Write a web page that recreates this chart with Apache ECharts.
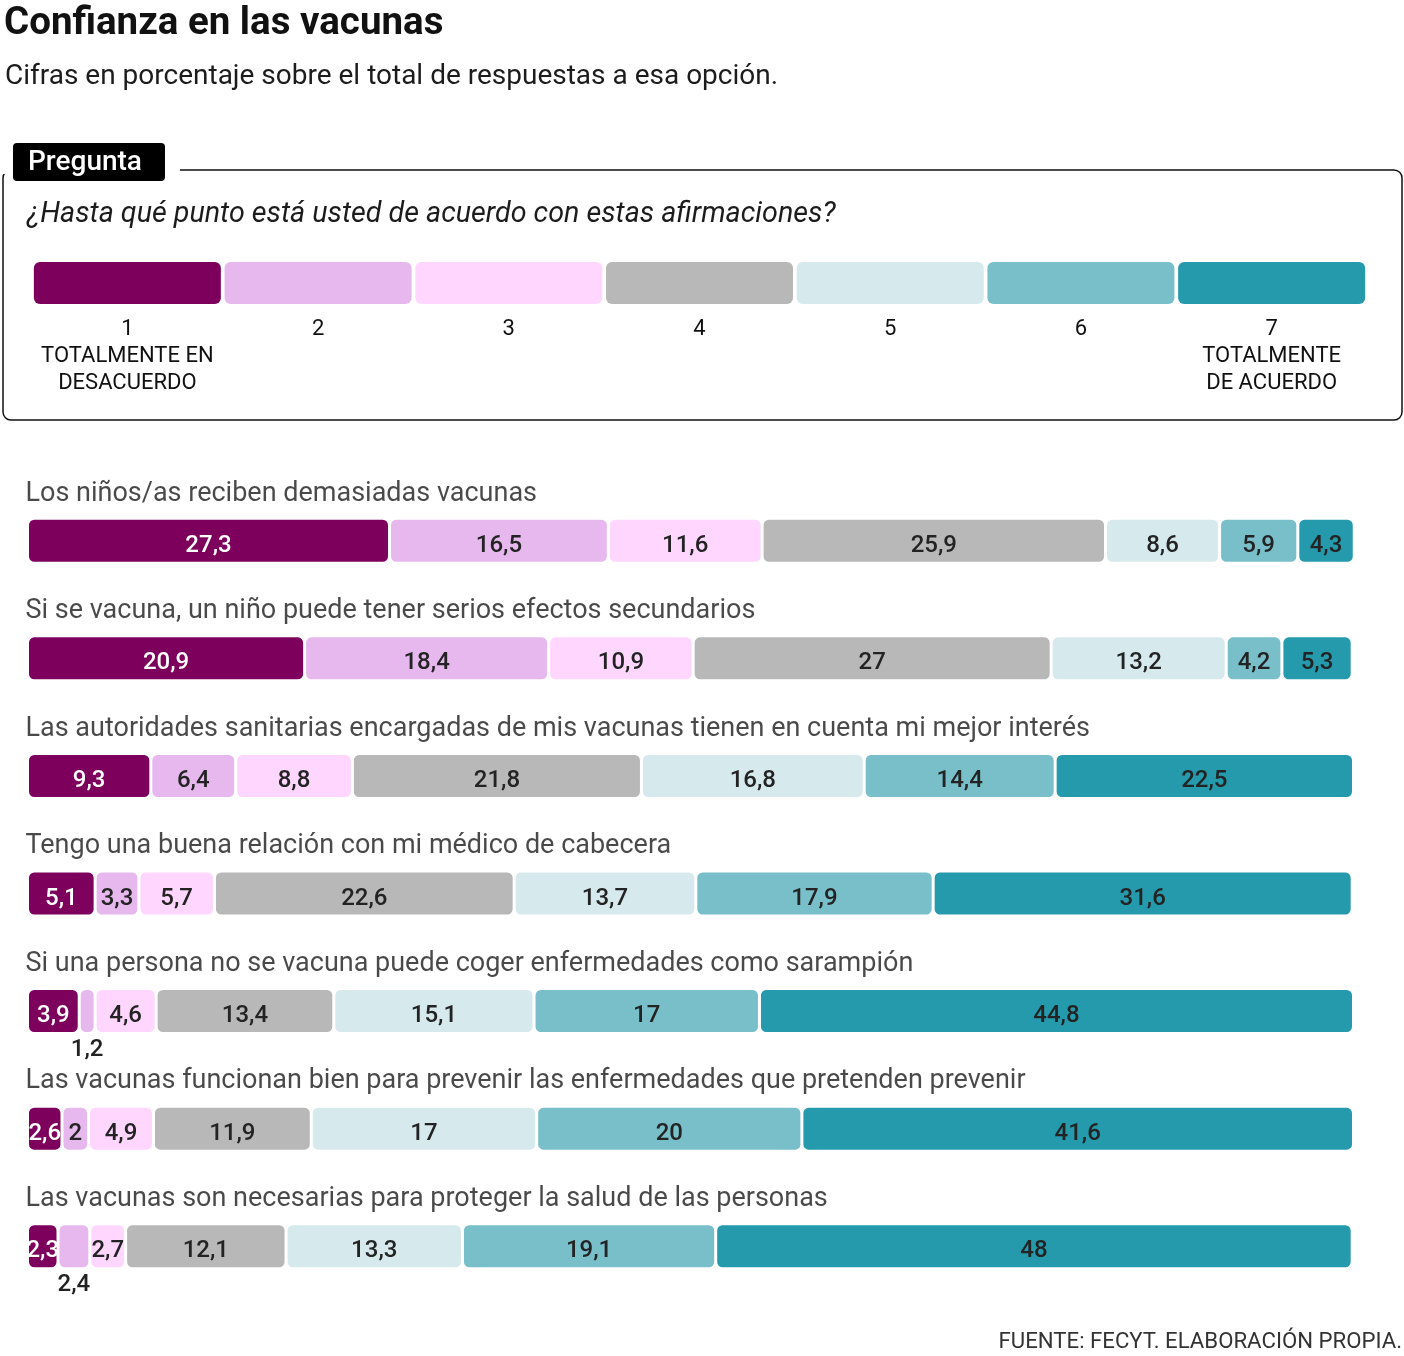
<!DOCTYPE html>
<html>
<head>
<meta charset="utf-8">
<script src="https://cdn.jsdelivr.net/npm/echarts@6/dist/echarts.min.js"></script>
<style>
html,body{margin:0;padding:0;background:#fff;}
#c{width:1404px;height:1356px;}
</style>
</head>
<body>
<div id="c"></div>
<script>
// ---- DATA ----
var questions = [
  'Los niños/as reciben demasiadas vacunas',
  'Si se vacuna, un niño puede tener serios efectos secundarios',
  'Las autoridades sanitarias encargadas de mis vacunas tienen en cuenta mi mejor interés',
  'Tengo una buena relación con mi médico de cabecera',
  'Si una persona no se vacuna puede coger enfermedades como sarampión',
  'Las vacunas funcionan bien para prevenir las enfermedades que pretenden prevenir',
  'Las vacunas son necesarias para proteger la salud de las personas'
];
var scaleLabels = ['1\nTOTALMENTE EN\nDESACUERDO', '2', '3', '4', '5', '6', '7\nTOTALMENTE\nDE ACUERDO'];
var row1 = [27.3, 16.5, 11.6, 25.9, 8.6, 5.9, 4.3];
var row2 = [20.9, 18.4, 10.9, 27, 13.2, 4.2, 5.3];
var row3 = [9.3, 6.4, 8.8, 21.8, 16.8, 14.4, 22.5];
var row4 = [5.1, 3.3, 5.7, 22.6, 13.7, 17.9, 31.6];
var row5 = [3.9, 1.2, 4.6, 13.4, 15.1, 17, 44.8];
var row6 = [2.6, 2, 4.9, 11.9, 17, 20, 41.6];
var row7 = [2.3, 2.4, 2.7, 12.1, 13.3, 19.1, 48];
var rows = [row1, row2, row3, row4, row5, row6, row7];
// values whose label sits below the bar: [row, option]
var labelsBelow = [[4, 1], [6, 1]];

var colors = ['#7C005C', '#E6B8EE', '#FED6FE', '#B8B8B8', '#D6E9ED', '#78BFCA', '#259AAC'];
var FONT = 'Roboto';

function fmt(v) { return String(v).replace('.', ','); }

var series = [];
for (var k = 0; k < 7; k++) {
  var data = rows.map(function (r, ri) {
    var below = labelsBelow.some(function (p) { return p[0] === ri && p[1] === k; });
    if (below) {
      return { value: r[k], label: { position: 'bottom', distance: 3, offset: [0, 1], color: '#222' } };
    }
    return r[k];
  });
  series.push({
    type: 'bar',
    stack: 'total',
    xAxisIndex: 0, yAxisIndex: 0,
    barWidth: 45,
    data: data,
    itemStyle: { color: colors[k], borderColor: '#fff', borderWidth: 1.5, borderRadius: 6 },
    label: {
      show: true,
      position: 'inside',
      offset: [0, 5],
      formatter: function (p) { return fmt(p.value); },
      fontFamily: FONT, fontSize: 24, fontWeight: 500,
      color: k === 0 ? '#fff' : '#232323'
    },
    emphasis: { disabled: true },
    silent: true
  });
}

// Statement titles above each bar
series.push({
  type: 'scatter',
  xAxisIndex: 0, yAxisIndex: 0,
  symbolSize: 0,
  data: questions.map(function (q, i) { return [0, i]; }),
  label: {
    show: true, position: 'right', distance: 0, offset: [-2, -47],
    formatter: function (p) { return questions[p.dataIndex]; },
    fontFamily: FONT, fontSize: 27, color: '#1c1c1c'
  },
  silent: true
});

// Scale key bar
series.push({
  type: 'bar',
  xAxisIndex: 1, yAxisIndex: 1,
  barWidth: 187,
  data: scaleLabels.map(function (s, i) { return { value: 1, itemStyle: { color: colors[i] } }; }),
  itemStyle: { borderRadius: 6 },
  silent: true
});

var chart = echarts.init(document.getElementById('c'), null, { renderer: 'canvas' });
chart.setOption({
  animation: false,
  backgroundColor: '#fff',
  textStyle: { fontFamily: FONT },
  title: [
    { text: 'Confianza en las vacunas', left: -1, top: 0,
      textStyle: { fontFamily: FONT, fontSize: 38.5, fontWeight: 'bold', color: '#111' } },
    { text: 'Cifras en porcentaje sobre el total de respuestas a esa opción.', left: 0, top: 58,
      textStyle: { fontFamily: FONT, fontSize: 28, fontWeight: 'normal', color: '#1c1c1c' } },
    { text: '¿Hasta qué punto está usted de acuerdo con estas afirmaciones?', left: 22, top: 195,
      textStyle: { fontFamily: FONT, fontSize: 28.7, fontStyle: 'italic', fontWeight: 'normal', color: '#1c1c1c' } },
    { text: 'FUENTE: FECYT. ELABORACIÓN PROPIA.', right: -3, top: 1326,
      textStyle: { fontFamily: FONT, fontSize: 22.2, fontWeight: 'normal', color: '#333' } }
  ],
  graphic: [
    { type: 'rect', z: 0, shape: { x: 3, y: 170, width: 1399, height: 250, r: 8 },
      style: { fill: 'none', stroke: '#111', lineWidth: 1.5 } },
    { type: 'rect', z: 1, shape: { x: 0, y: 160, width: 180, height: 14 },
      style: { fill: '#fff' } },
    { type: 'rect', z: 2, shape: { x: 13, y: 143, width: 152, height: 38, r: 4 },
      style: { fill: '#000' } },
    { type: 'text', z: 3, x: 28, y: 163,
      style: { text: 'Pregunta', fill: '#fff', font: '500 28px ' + FONT, verticalAlign: 'middle' } }
  ],
  grid: [
    { left: 27.5, width: 1326, top: 482, height: 823, containLabel: false },
    { left: 32, width: 1335, top: 262, height: 42, containLabel: false }
  ],
  xAxis: [
    { type: 'value', gridIndex: 0, min: 0, max: 100, show: false },
    { type: 'category', gridIndex: 1, data: scaleLabels,
      axisLine: { show: false }, axisTick: { show: false },
      axisLabel: { interval: 0, margin: 12, fontFamily: FONT, fontSize: 22, lineHeight: 27, color: '#111', align: 'center' } }
  ],
  yAxis: [
    { type: 'category', gridIndex: 0, inverse: true, data: questions, show: false },
    { type: 'value', gridIndex: 1, min: 0, max: 1, show: false }
  ],
  series: series
});
</script>
</body>
</html>
